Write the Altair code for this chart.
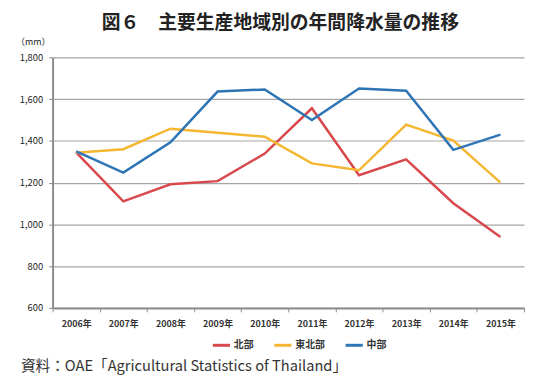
import altair as alt
import pandas as pd

years = ["2006年", "2007年", "2008年", "2009年", "2010年", "2011年", "2012年", "2013年", "2014年", "2015年"]
north = [1345, 1110, 1192, 1207, 1339, 1556, 1235, 1311, 1101, 940]
northeast = [1343, 1360, 1458, 1439, 1420, 1292, 1259, 1478, 1401, 1200]
central = [1350, 1248, 1393, 1636, 1646, 1500, 1651, 1640, 1357, 1430]
series = ["北部", "東北部", "中部"]
colors = ["#D9484C", "#F5B731", "#2E75B6"]

rows = []
for name, vals in zip(series, [north, northeast, central]):
    for y, v in zip(years, vals):
        rows.append({"year": y, "value": v, "region": name})
df = pd.DataFrame(rows)

font = "Noto Sans CJK JP"

lines = alt.Chart(df).mark_line(strokeWidth=2.5).encode(
    x=alt.X("year:O", sort=years,
            scale=alt.Scale(paddingInner=0, paddingOuter=0),
            axis=alt.Axis(title=None, labelAngle=0, tickBand="extent", labelFontSize=9,
                          labelFontWeight="bold", labelColor="#333", labelPadding=8,
                          domainColor="#8c8c8c", domainWidth=2, tickColor="#8c8c8c",
                          tickSize=4, tickWidth=1, grid=False)),
    y=alt.Y("value:Q", scale=alt.Scale(domain=[600, 1800]),
            axis=alt.Axis(values=[600, 800, 1000, 1200, 1400, 1600, 1800], format=",.0f",
                          title="（mm）", titleAngle=0, titleX=-20, titleY=-11,
                          titleFontSize=9, titleFontWeight="normal", titleColor="#222",
                          labelFontSize=9.5, labelColor="#222", labelPadding=6,
                          domainColor="#8c8c8c", domainWidth=2, tickColor="#8c8c8c",
                          tickSize=4, gridColor="#a6a6a6", gridWidth=1.2)),
    color=alt.Color("region:N", sort=series,
                    scale=alt.Scale(domain=series, range=colors),
                    legend=alt.Legend(title=None, orient="none", direction="horizontal",
                                      legendX=160, legendY=280, symbolType="stroke",
                                      symbolStrokeWidth=3, symbolSize=300,
                                      labelFontSize=10, labelFontWeight="bold",
                                      labelColor="#333", columnPadding=14, labelOffset=2)),
)

source = alt.Chart(pd.DataFrame({"t": ["資料：OAE「Agricultural Statistics of Thailand」"]})).mark_text(
    align="left", baseline="middle", fontSize=14.8, font=font, color="#333"
).encode(x=alt.value(-32), y=alt.value(313), text="t:N")

chart = alt.layer(lines, source).properties(
    width=476, height=253,
    padding={"left": 45, "top": 48, "right": 4, "bottom": 70},
    autosize=alt.AutoSizeParams(type="none"),
    title=alt.TitleParams("図６　主要生産地域別の年間降水量の推移", fontSize=19,
                          fontWeight="bold", color="#222", font=font,
                          anchor="middle", dx=-8, offset=5),
).configure(font=font).configure_view(stroke=None)

chart.save("out.html", embed_options={"renderer": "svg", "actions": False})
